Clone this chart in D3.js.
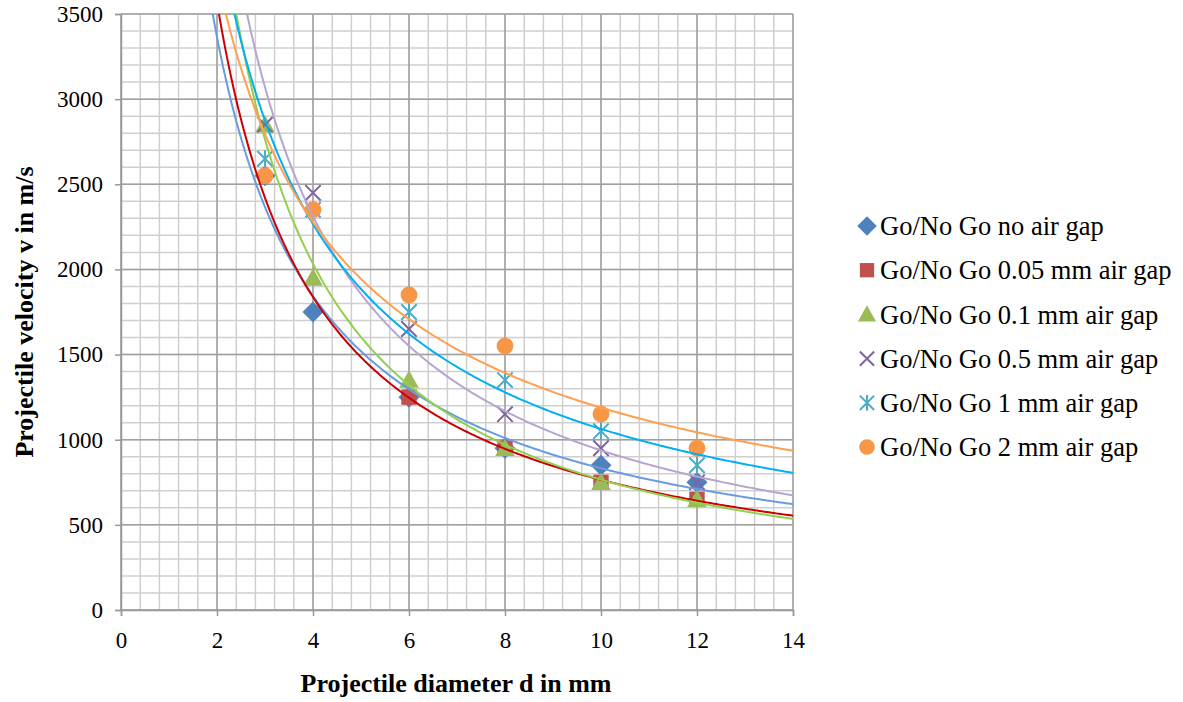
<!DOCTYPE html>
<html>
<head>
<meta charset="utf-8">
<script src="https://cdn.jsdelivr.net/npm/d3@7"></script>
<style>
  body { margin: 0; background: #fff; }
  svg { display: block; }
</style>
</head>
<body>
<svg id="chart" width="1183" height="702"></svg>
<script>
// ---- data ----
const seriesNames = [
  "Go/No Go no air gap",
  "Go/No Go 0.05 mm air gap",
  "Go/No Go 0.1 mm air gap",
  "Go/No Go 0.5 mm air gap",
  "Go/No Go 1 mm air gap",
  "Go/No Go 2 mm air gap"
];
const xNoGap = [3, 4, 6, 8, 10, 12];
const vNoGap = [2550, 1750, 1250, 950, 850, 750];
const x005 = [6, 8, 10, 12];
const v005 = [1250, 950, 750, 650];
const x01 = [3, 4, 6, 8, 10, 12];
const v01 = [2850, 1950, 1350, 950, 750, 650];
const x05 = [3, 4, 6, 8, 10, 12];
const v05 = [2850, 2450, 1650, 1150, 950, 750];
const x1 = [3, 4, 6, 8, 10, 12];
const v1 = [2650, 2350, 1750, 1350, 1050, 850];
const x2 = [3, 4, 6, 8, 10, 12];
const v2 = [2550, 2350, 1850, 1550, 1150, 950];
const xTicks = [0, 2, 4, 6, 8, 10, 12, 14];
const yTicks = [0, 500, 1000, 1500, 2000, 2500, 3000, 3500];

const seriesX = [xNoGap, x005, x01, x05, x1, x2];
const seriesV = [vNoGap, v005, v01, v05, v1, v2];
const markerColors = ["#4F81BD", "#C0504D", "#9BBB59", "#8064A2", "#4BACC6", "#F79646"];
const lineColors   = ["#689CDC", "#CC0000", "#92D050", "#B7A5D0", "#00B0F0", "#FFA050"];
const markerTypes  = ["diamond", "square", "triangle", "x", "star", "circle"];

const FONT = "'Liberation Serif', 'Times New Roman', serif";

// ---- layout ----
const svg = d3.select("#chart");
const L = 121, R = 793, T = 14, B = 610;
const x = d3.scaleLinear().domain([0, 14]).range([L, R]);
const y = d3.scaleLinear().domain([0, 3500]).range([B, T]);

// grid
const g = svg.append("g");
const minorX = d3.range(0, 14.0001, 0.4);
const minorY = d3.range(0, 3500.1, 100);
g.selectAll(".mx").data(minorX).enter().append("line")
  .attr("x1", d => x(d)).attr("x2", d => x(d)).attr("y1", T).attr("y2", B)
  .attr("stroke", "#CFCFCF").attr("stroke-width", 1.5);
g.selectAll(".my").data(minorY).enter().append("line")
  .attr("x1", L).attr("x2", R).attr("y1", d => y(d)).attr("y2", d => y(d))
  .attr("stroke", "#CFCFCF").attr("stroke-width", 1.5);
g.selectAll(".Mx").data(xTicks).enter().append("line")
  .attr("x1", d => x(d)).attr("x2", d => x(d)).attr("y1", T).attr("y2", B)
  .attr("stroke", "#A0A0A0").attr("stroke-width", 1.5);
g.selectAll(".My").data(yTicks).enter().append("line")
  .attr("x1", L).attr("x2", R).attr("y1", d => y(d)).attr("y2", d => y(d))
  .attr("stroke", "#A0A0A0").attr("stroke-width", 1.5);

// axes
const xAxis = svg.append("g").attr("transform", `translate(0,${B})`)
  .call(d3.axisBottom(x).tickValues(xTicks).tickSize(6).tickPadding(12).tickFormat(d3.format("d")));
const yAxis = svg.append("g").attr("transform", `translate(${L},0)`)
  .call(d3.axisLeft(y).tickValues(yTicks).tickSize(6).tickPadding(12).tickFormat(d3.format("d")));
[xAxis, yAxis].forEach(a => {
  a.attr("font-family", FONT).attr("font-size", 23);
  a.select(".domain").attr("stroke", "#999").attr("stroke-width", 1.5);
  a.selectAll(".tick line").attr("stroke", "#999").attr("stroke-width", 1.5);
  a.selectAll(".tick text").attr("fill", "#000");
});
xAxis.selectAll(".tick text").attr("dy", "0.85em");

// power trendlines (least squares on ln-ln, as a spreadsheet power trendline)
function powerFit(xs, vs) {
  const lx = xs.map(Math.log), lv = vs.map(Math.log);
  const mx = d3.mean(lx), mv = d3.mean(lv);
  let sxy = 0, sxx = 0;
  lx.forEach((d, i) => { sxy += (d - mx) * (lv[i] - mv); sxx += (d - mx) * (d - mx); });
  const b = sxy / sxx;
  const a = Math.exp(mv - b * mx);
  return t => a * Math.pow(t, b);
}
svg.append("defs").append("clipPath").attr("id", "plotclip")
  .append("rect").attr("x", L).attr("y", T).attr("width", R - L).attr("height", B - T);

const markersG = svg.append("g");
const linesG = svg.append("g").attr("clip-path", "url(#plotclip)");
const xs = d3.range(1.5, 14.001, 0.05);
const lineGen = d3.line().x(d => x(d[0])).y(d => y(d[1]));

function drawMarker(sel, type, color, cx, cy, s) {
  if (type === "diamond") {
    sel.append("path").attr("d", `M${cx},${cy - s * 0.75}L${cx + s * 0.75},${cy}L${cx},${cy + s * 0.75}L${cx - s * 0.75},${cy}Z`).attr("fill", color);
  } else if (type === "square") {
    sel.append("rect").attr("x", cx - s * 0.55).attr("y", cy - s * 0.55).attr("width", s * 1.1).attr("height", s * 1.1).attr("fill", color);
  } else if (type === "triangle") {
    sel.append("path").attr("d", `M${cx},${cy - s * 0.7}L${cx + s * 0.7},${cy + s * 0.55}L${cx - s * 0.7},${cy + s * 0.55}Z`).attr("fill", color);
  } else if (type === "x") {
    const r = s * 0.55;
    sel.append("path").attr("d", `M${cx - r},${cy - r}L${cx + r},${cy + r}M${cx - r},${cy + r}L${cx + r},${cy - r}`)
      .attr("stroke", color).attr("stroke-width", 2).attr("fill", "none");
  } else if (type === "star") {
    const r = s * 0.55;
    sel.append("path").attr("d", `M${cx - r},${cy - r}L${cx + r},${cy + r}M${cx - r},${cy + r}L${cx + r},${cy - r}M${cx},${cy - r * 1.1}L${cx},${cy + r * 1.1}`)
      .attr("stroke", color).attr("stroke-width", 2).attr("fill", "none");
  } else if (type === "circle") {
    sel.append("circle").attr("cx", cx).attr("cy", cy).attr("r", s * 0.6).attr("fill", color);
  }
}

seriesX.forEach((xsData, i) => {
  const sg = markersG.append("g");
  xsData.forEach((d, j) => drawMarker(sg, markerTypes[i], markerColors[i], x(d), y(seriesV[i][j]), 14));
});
seriesX.forEach((xsData, i) => {
  const f = powerFit(xsData, seriesV[i]);
  const pts = xs.map(t => [t, Math.min(f(t), 5000)]);
  linesG.append("path").datum(pts).attr("d", lineGen)
    .attr("fill", "none").attr("stroke", lineColors[i]).attr("stroke-width", 2);
});

// axis titles
svg.append("text").attr("x", 456).attr("y", 692).attr("text-anchor", "middle")
  .attr("font-family", FONT).attr("font-size", 26).attr("font-weight", "bold")
  .text("Projectile diameter d in mm");
svg.append("text").attr("transform", `translate(33,${(T + B) / 2}) rotate(-90)`).attr("text-anchor", "middle")
  .attr("font-family", FONT).attr("font-size", 26).attr("font-weight", "bold")
  .text("Projectile velocity v in m/s");

// legend
const lg = svg.append("g");
seriesNames.forEach((n, i) => {
  const cy = 226 + i * 44.2;
  drawMarker(lg, markerTypes[i], markerColors[i], 867, cy, 13);
  lg.append("text").attr("x", 880).attr("y", cy).attr("dy", "0.35em")
    .attr("font-family", FONT).attr("font-size", 26.5).text(n);
});
</script>
</body>
</html>
